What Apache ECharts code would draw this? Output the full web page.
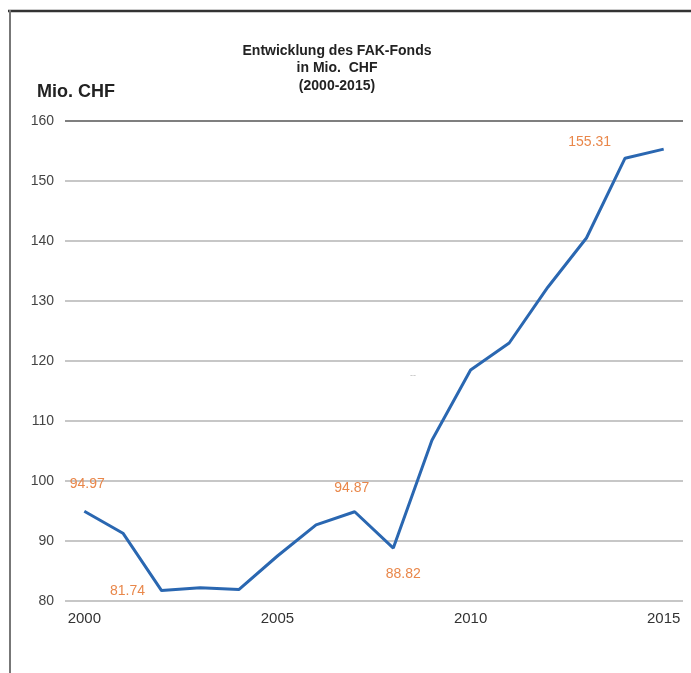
<!DOCTYPE html>
<html>
<head>
<meta charset="utf-8">
<script src="https://cdn.jsdelivr.net/npm/echarts@6/dist/echarts.min.js"></script>
<style>
  html, body { margin: 0; padding: 0; background: #fff; }
  #chart { width: 691px; height: 673px; }
</style>
</head>
<body>
<div id="chart"></div>
<script>
// Daten: FAK-Fonds in Mio. CHF
var years = ['2000','2001','2002','2003','2004','2005','2006','2007','2008','2009','2010','2011','2012','2013','2014','2015'];
var fondsValues = [94.97, 91.3, 81.74, 82.2, 81.9, 87.5, 92.7, 94.87, 88.82, 106.8, 118.5, 123.0, 132.3, 140.5, 153.8, 155.31];
var labelledIdx = [0, 2, 7, 8, 15];
var yTicks = [80, 90, 100, 110, 120, 130, 140, 150, 160];

// label offsets (px) for the annotated points
var labelOffsets = {
  0: [3, -19],
  2: [-34, 9],
  7: [-3, -16],
  8: [10, 34],
  15: [-74, 1]
};

var seriesData = fondsValues.map(function (v, i) {
  if (labelledIdx.indexOf(i) < 0) return v;
  return {
    value: v,
    label: {
      show: true,
      offset: labelOffsets[i]
    }
  };
});

var gridColors = yTicks.map(function (t) { return t === 160 ? '#555' : '#b4b4b4'; });

var myChart = echarts.init(document.getElementById('chart'));
var option = {
  animation: false,
  backgroundColor: '#fff',
  title: {
    text: 'Entwicklung des FAK-Fonds\nin Mio.  CHF\n(2000-2015)',
    left: 332,
    top: 37,
    textAlign: 'center',
    textStyle: {
      fontFamily: 'Liberation Sans',
      fontSize: 14,
      fontWeight: 'bold',
      color: '#222',
      lineHeight: 17.5
    }
  },
  grid: {
    left: 65,
    right: 8,
    top: 121,
    bottom: 72
  },
  xAxis: {
    type: 'category',
    data: years,
    boundaryGap: true,
    axisLine: { show: false },
    axisTick: { show: false },
    axisLabel: {
      interval: 4,
      margin: 10,
      color: '#333',
      fontFamily: 'Liberation Sans',
      fontSize: 15
    }
  },
  yAxis: {
    type: 'value',
    min: 80,
    max: 160,
    interval: 10,
    name: 'Mio. CHF',
    nameLocation: 'end',
    nameGap: 20,
    nameTextStyle: {
      align: 'left',
      padding: [0, 0, 0, -28],
      fontFamily: 'Liberation Sans',
      fontSize: 18,
      fontWeight: 'bold',
      color: '#222'
    },
    axisLine: { show: false },
    axisTick: { show: false },
    axisLabel: {
      margin: 11,
      color: '#444',
      fontFamily: 'Liberation Sans',
      fontSize: 14
    },
    splitLine: {
      lineStyle: { color: gridColors, width: 1.6 }
    }
  },
  series: [
    {
      type: 'line',
      data: seriesData,
      symbol: 'circle',
      symbolSize: 2,
      showAllSymbol: true,
      itemStyle: { color: 'rgba(0,0,0,0)', borderWidth: 0 },
      lineStyle: { color: '#2a67b1', width: 3 },
      label: {
        position: 'top',
        distance: 0,
        color: '#e9874a',
        fontFamily: 'Liberation Sans',
        fontSize: 14,
        formatter: function (p) { return p.value.toFixed(2); }
      }
    }
  ],
  graphic: [
    // Rahmen
    { type: 'line', shape: { x1: 8, y1: 11, x2: 691, y2: 11 }, style: { stroke: '#333', lineWidth: 2.5 } },
    { type: 'line', shape: { x1: 10, y1: 10, x2: 10, y2: 673 }, style: { stroke: '#777', lineWidth: 2 } },
    { type: 'text', left: 410, top: 371, style: { text: '--', fill: '#bbb', fontSize: 9, fontFamily: 'Liberation Sans' } }
  ]
};
myChart.setOption(option);
</script>
</body>
</html>
